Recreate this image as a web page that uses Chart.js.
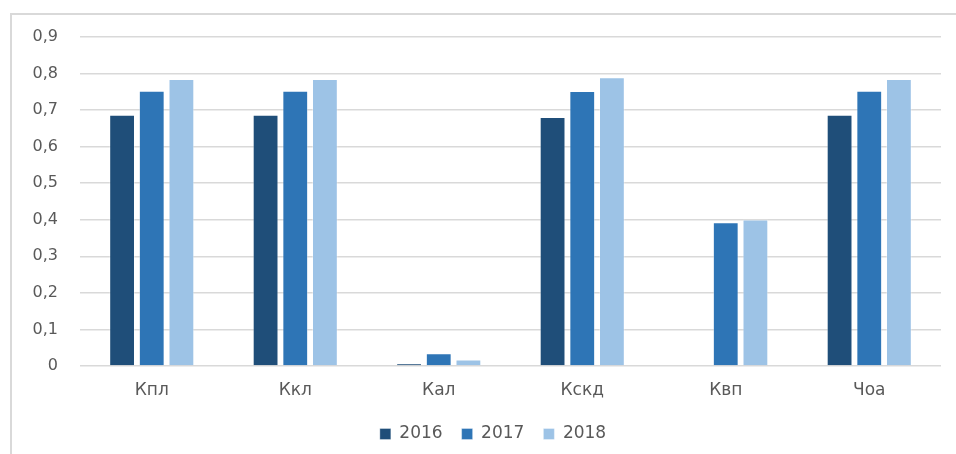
<!DOCTYPE html>
<html>
<head>
<meta charset="utf-8">
<script src="https://cdn.jsdelivr.net/npm/chart.js@4"></script>
<style>
  html, body { margin: 0; padding: 0; background: #fff; overflow: hidden; }
  #wrap { position: relative; width: 956px; height: 454px; overflow: hidden; }
  #frame { position: absolute; left: 10px; top: 13px; width: 980px; height: 480px;
           border-left: 2px solid #d9d9d9; border-top: 2px solid #d9d9d9; }
  canvas { position: absolute; left: 0; top: 0; }
</style>
</head>
<body>
<div id="wrap">
  <div id="frame"></div>
  <canvas id="myChart" width="956" height="454"></canvas>
</div>
<script>
// Categories and series values
let categories = ["Кпл", "Ккл", "Кал", "Кскд", "Квп", "Чоа"];
let values2016 = [0.687, 0.687, 0.007, 0.681, 0, 0.687];
let values2017 = [0.753, 0.753, 0.035, 0.752, 0.393, 0.753];
let values2018 = [0.785, 0.785, 0.018, 0.790, 0.401, 0.785];
let yTicks = [0, 0.1, 0.2, 0.3, 0.4, 0.5, 0.6, 0.7, 0.8, 0.9];

const textColor = "#595959";
const fontFamily = "'DejaVu Sans', sans-serif";

function makeSet(label, data, color) {
  return {
    label: label,
    data: data,
    backgroundColor: color,
    borderColor: "rgba(255,255,255,0.35)",
    borderWidth: 1,
    categoryPercentage: 0.62,
    barPercentage: 0.87,
  };
}

const ctx = document.getElementById("myChart").getContext("2d");
const myChart = new Chart(ctx, {
  type: "bar",
  data: {
    labels: categories,
    datasets: [
      makeSet("2016", values2016, "#1f4e79"),
      makeSet("2017", values2017, "#2e75b6"),
      makeSet("2018", values2018, "#9dc3e6"),
    ],
  },
  options: {
    responsive: false,
    animation: false,
    // plot runs from x=80 to x=941; the padding split keeps the legend centred like the original
    layout: { padding: { left: 30, right: 0, top: 37, bottom: 1.5 } },
    plugins: {
      tooltip: { enabled: false },
      legend: {
        position: "bottom",
        labels: {
          boxWidth: 11,
          boxHeight: 11,
          padding: 19,
          color: textColor,
          font: { family: fontFamily, size: 17 },
        },
      },
    },
    scales: {
      x: {
        afterFit: (axis) => { axis.height = 40.5; },
        grid: { display: false, drawTicks: false },
        border: { display: false },
        ticks: { color: textColor, font: { family: fontFamily, size: 17 }, padding: 14 },
      },
      y: {
        min: 0,
        max: 0.9,
        afterFit: (axis) => { axis.width = 50; },
        afterBuildTicks: (axis) => { axis.ticks = yTicks.map((v) => ({ value: v })); },
        grid: { color: "#d9d9d9", lineWidth: 1.5, drawTicks: false },
        border: { display: false },
        ticks: {
          color: textColor,
          padding: 22,
          font: { family: fontFamily, size: 16 },
          callback: (v) => (v === 0 ? "0" : v.toFixed(1).replace(".", ",")),
        },
      },
      // empty right-hand spacer so the plot ends at the same place as in the original
      spacer: {
        type: "linear",
        position: "right",
        afterFit: (axis) => { axis.width = 15; },
        grid: { display: false, drawTicks: false },
        border: { display: false },
        ticks: { display: false },
      },
    },
  },
});
</script>
</body>
</html>
